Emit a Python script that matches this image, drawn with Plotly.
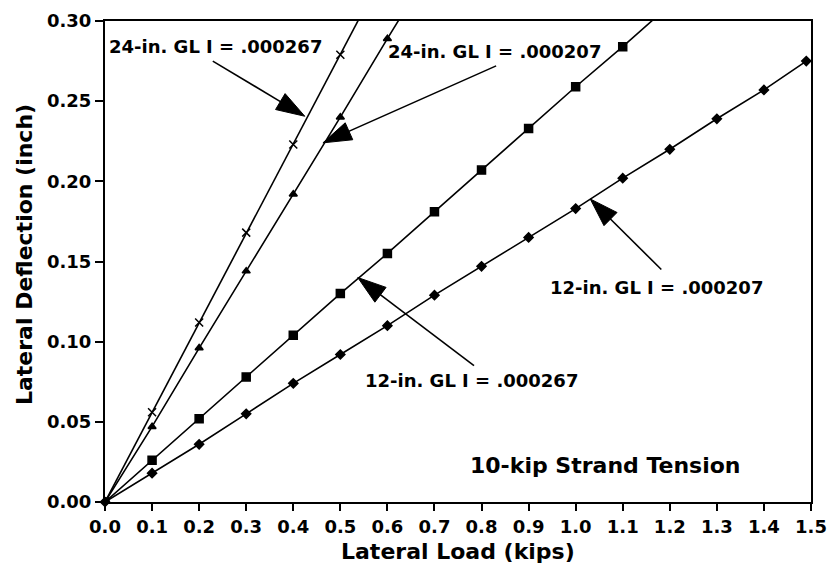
import plotly.graph_objects as go

# Data (lateral load in kips, lateral deflection in inches)
load_24_267 = [0.0, 0.1, 0.2, 0.3, 0.4, 0.5, 0.6]
defl_24_267 = [0.0, 0.056, 0.112, 0.168, 0.223, 0.279, 0.335]

load_24_207 = [0.0, 0.1, 0.2, 0.3, 0.4, 0.5, 0.6, 0.7]
defl_24_207 = [0.0, 0.047, 0.096, 0.144, 0.192, 0.240, 0.289, 0.337]

load_12_267 = [0.0, 0.1, 0.2, 0.3, 0.4, 0.5, 0.6, 0.7, 0.8, 0.9, 1.0, 1.1, 1.2]
defl_12_267 = [0.0, 0.026, 0.052, 0.078, 0.104, 0.130, 0.155, 0.181, 0.207, 0.233, 0.259, 0.284, 0.310]

load_12_207 = [0.0, 0.1, 0.2, 0.3, 0.4, 0.5, 0.6, 0.7, 0.8, 0.9, 1.0, 1.1, 1.2, 1.3, 1.4, 1.49]
defl_12_207 = [0.0, 0.018, 0.036, 0.055, 0.074, 0.092, 0.110, 0.129, 0.147, 0.165, 0.183, 0.202, 0.220, 0.239, 0.257, 0.275]

x_ticks = [0.0, 0.1, 0.2, 0.3, 0.4, 0.5, 0.6, 0.7, 0.8, 0.9, 1.0, 1.1, 1.2, 1.3, 1.4, 1.5]
y_ticks = [0.00, 0.05, 0.10, 0.15, 0.20, 0.25, 0.30]

labels = ["24-in. GL I = .000267", "24-in. GL I = .000207",
          "12-in. GL I = .000267", "12-in. GL I = .000207"]
# label anchor (left, middle), arrow tail, arrow tip
label_pos = [(0.005, 0.284), (0.597, 0.281), (0.548, 0.076), (0.941, 0.134)]
arrow_tail = [(0.229, 0.275), (0.831, 0.272), (0.784, 0.085), (1.182, 0.145)]
arrow_tip = [(0.4245, 0.2406), (0.463, 0.224), (0.537, 0.140), (1.031, 0.189)]

FONT = "DejaVu Sans"

fig = go.Figure()
series = [
    (load_24_267, defl_24_267, "x-thin-open", 8, True),
    (load_24_207, defl_24_207, "triangle-up", 7, True),
    (load_12_267, defl_12_267, "square", 8, True),
    (load_12_207, defl_12_207, "diamond", 7, False),
]
for xs, ys, sym, sz, clip in series:
    fig.add_trace(go.Scatter(
        x=xs, y=ys, mode="lines+markers",
        line=dict(color="black", width=1.6),
        marker=dict(symbol=sym, size=sz, color="black",
                    line=dict(color="black", width=1.5)),
        showlegend=False, cliponaxis=clip,
    ))

# arrows: a line from tail to tip with an arrow marker at the tip
for (tx, ty), (hx, hy) in zip(arrow_tail, arrow_tip):
    fig.add_trace(go.Scatter(
        x=[tx, hx], y=[ty, hy], mode="lines+markers",
        line=dict(color="black", width=1.6),
        marker=dict(symbol=["circle", "arrow"], size=[0, 30], color="black",
                    opacity=1, angleref="previous",
                    line=dict(color="black", width=1)),
        showlegend=False, hoverinfo="skip", cliponaxis=False,
    ))

annotations = []
for lab, (lx, ly) in zip(labels, label_pos):
    annotations.append(dict(
        x=lx, y=ly, xref="x", yref="y", text="<b>" + lab + "</b>",
        showarrow=False, xanchor="left", yanchor="middle",
        font=dict(family=FONT, size=18, color="black"),
    ))
annotations.append(dict(
    x=0.771, y=0.0225, xref="x", yref="y", text="<b>10-kip Strand Tension</b>",
    showarrow=False, xanchor="left", yanchor="middle",
    font=dict(family=FONT, size=22, color="black"),
))
annotations.append(dict(
    x=0.5, y=-0.102, xref="paper", yref="paper", text="<b>Lateral Load (kips)</b>",
    showarrow=False, xanchor="center", yanchor="middle",
    font=dict(family=FONT, size=22, color="black"),
))
annotations.append(dict(
    x=-0.1147, y=0.5135, xref="paper", yref="paper", text="<b>Lateral Deflection (inch)</b>",
    showarrow=False, xanchor="center", yanchor="middle", textangle=-90,
    font=dict(family=FONT, size=22, color="black"),
))

fig.update_layout(
    width=831, height=573,
    margin=dict(l=105, r=20, t=21, b=71, autoexpand=False),
    paper_bgcolor="white", plot_bgcolor="white",
    annotations=annotations,
    xaxis=dict(
        range=[0, 1.5], tickvals=x_ticks, tickformat=".1f", automargin=False,
        showgrid=False, zeroline=False, showline=True, linecolor="black",
        linewidth=2, mirror=True, ticks="outside", ticklen=7, tickwidth=1.5,
        tickcolor="black",
        tickfont=dict(family=FONT, size=18, color="black", weight="bold"),
    ),
    yaxis=dict(
        range=[0, 0.30], tickvals=y_ticks, tickformat=".2f", automargin=False,
        showgrid=False, zeroline=False, showline=True, linecolor="black",
        linewidth=2, mirror=True, ticks="outside", ticklen=8, tickwidth=1.5,
        tickcolor="black",
        tickfont=dict(family=FONT, size=18, color="black", weight="bold"),
    ),
)

fig.write_html("out.html")
